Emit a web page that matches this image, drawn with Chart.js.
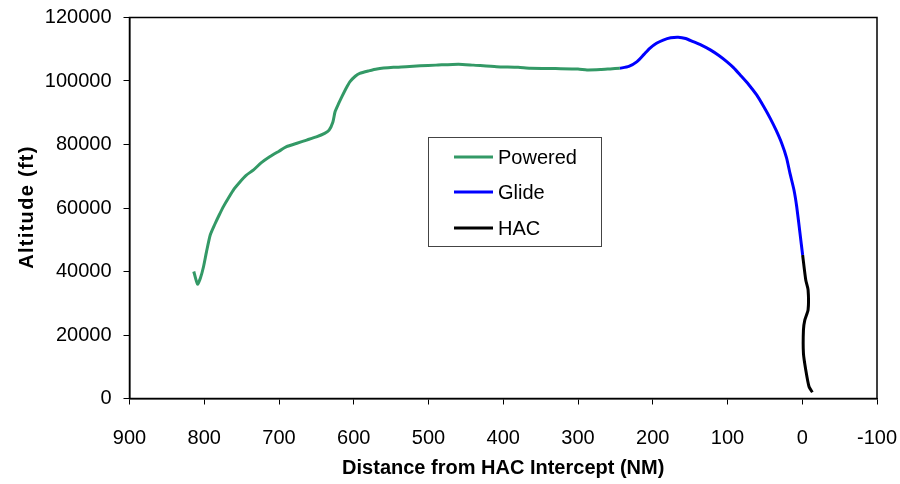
<!DOCTYPE html>
<html>
<head>
<meta charset="utf-8">
<title>Altitude vs Distance from HAC Intercept</title>
<script src="https://cdn.jsdelivr.net/npm/chart.js@4.4.0/dist/chart.umd.min.js"></script>
<style>
  html, body { margin: 0; padding: 0; background: #fff; }
  #wrap { width: 900px; height: 484px; }
</style>
</head>
<body>
<div id="wrap"><canvas id="chart"></canvas></div>
<script>
// Values (distance in NM, altitude in ft)
const poweredDist = [814, 809, 805, 801, 797, 792, 786, 780, 774, 768, 760, 752, 744, 734, 724, 712, 700, 690,
  676, 663, 650, 639, 633, 628, 625, 620, 616, 610, 605, 598, 592, 580, 569, 547, 530, 511, 490, 460, 440,
  409, 380, 364, 330, 300, 288, 270, 257, 244];
const poweredAlt = [40000, 36000, 38000, 41500, 46200, 51500, 54800, 57800, 60600, 63000, 66000, 68300, 70300,
  72000, 74200, 76200, 77900, 79300, 80400, 81400, 82400, 83500, 84500, 87000, 90300, 93000, 95000, 97800,
  99800, 101500, 102400, 103200, 103800, 104300, 104500, 104800, 105000, 105300, 105000, 104500, 104300,
  104000, 103900, 103800, 103500, 103600, 103800, 104000];

const glideDist = [244, 232, 221, 212, 204, 195, 186, 176, 166, 156, 146, 135, 123, 112, 101, 92, 83, 72, 61,
  52, 43, 35, 27.5, 21, 16.4, 11, 7.4, 3, -0.5];
const glideAlt = [104000, 104600, 106100, 108300, 110300, 111900, 112900, 113600, 113800, 113400, 112400,
  111300, 109800, 108100, 106100, 104200, 101900, 99000, 95600, 92100, 88300, 84500, 80400, 75800, 70900,
  65600, 60400, 52000, 45200];

const hacDist = [-0.5, -4.7, -7.8, -7.8, -3.4, -1.6, -1.6, -4.7, -9.1, -13.6];
const hacAlt = [45200, 37300, 34200, 27900, 24700, 21600, 14200, 9000, 3700, 1950];

const seriesNames = ['Powered', 'Glide', 'HAC'];
const seriesColors = ['#339966', '#0000ff', '#000000'];

const xTicks = [900, 800, 700, 600, 500, 400, 300, 200, 100, 0, -100];
const yTicks = [0, 20000, 40000, 60000, 80000, 100000, 120000];

const FONT = "'Liberation Sans', Arial, sans-serif";

function toPoints(xs, ys) {
  return xs.map((x, i) => ({ x: x, y: ys[i] }));
}

// frame round the plot area, the spaced-out y title and the boxed legend
const frameAndLegend = {
  id: 'frameAndLegend',
  afterDraw(chart) {
    const ctx = chart.ctx;
    const a = chart.chartArea;
    ctx.save();
    ctx.strokeStyle = '#000';
    ctx.lineWidth = 1.5;
    ctx.strokeRect(a.left, a.top, a.right - a.left, a.bottom - a.top);

    // y axis title
    ctx.save();
    ctx.translate(33, (a.top + a.bottom) / 2 - 1);
    ctx.rotate(-Math.PI / 2);
    ctx.font = 'bold 20px ' + FONT;
    ctx.letterSpacing = '1.3px';
    ctx.fillStyle = '#000';
    ctx.textAlign = 'center';
    ctx.textBaseline = 'alphabetic';
    ctx.fillText('Altitude (ft)', 0, 0);
    ctx.restore();

    ctx.strokeStyle = '#444';
    ctx.lineWidth = 1;
    ctx.fillStyle = '#fff';
    ctx.fillRect(428.5, 137.5, 173, 109);
    ctx.strokeRect(428.5, 137.5, 173, 109);

    const rows = [157, 192, 228];
    ctx.font = '20px ' + FONT;
    ctx.textBaseline = 'middle';
    seriesNames.forEach((name, i) => {
      ctx.strokeStyle = seriesColors[i];
      ctx.lineWidth = 3;
      ctx.beginPath();
      ctx.moveTo(454, rows[i]);
      ctx.lineTo(493, rows[i]);
      ctx.stroke();
      ctx.fillStyle = '#000';
      ctx.fillText(name, 498, rows[i] + 1);
    });
    ctx.restore();
  }
};

const datasets = [
  toPoints(poweredDist, poweredAlt),
  toPoints(glideDist, glideAlt),
  toPoints(hacDist, hacAlt)
].map((pts, i) => ({
  label: seriesNames[i],
  data: pts,
  showLine: true,
  borderColor: seriesColors[i],
  backgroundColor: seriesColors[i],
  borderWidth: 3,
  pointRadius: 0,
  tension: 0.2,
  fill: false
}));

new Chart(document.getElementById('chart'), {
  type: 'scatter',
  data: { datasets: datasets },
  options: {
    responsive: true,
    maintainAspectRatio: false,
    animation: false,
    layout: { padding: { top: 17.5, right: 23, left: 0, bottom: 0 } },
    plugins: {
      legend: { display: false },
      tooltip: { enabled: false }
    },
    scales: {
      x: {
        type: 'linear',
        reverse: true,
        min: -100,
        max: 900,
        afterBuildTicks(scale) { scale.ticks = xTicks.map(v => ({ value: v })); },
        afterFit(scale) {
          scale.height = 85.5;
          scale.paddingLeft = 0;
          scale.paddingRight = 0;
        },
        border: { display: true, color: '#000', width: 1.5 },
        grid: { drawOnChartArea: false, drawTicks: true, tickLength: 6, color: '#000', lineWidth: 1 },
        ticks: {
          color: '#000',
          padding: 22,
          maxRotation: 0,
          autoSkip: false,
          font: { family: FONT, size: 20 },
          callback: v => String(v)
        },
        title: {
          display: true,
          text: 'Distance from HAC Intercept (NM)',
          color: '#000',
          font: { family: FONT, size: 20, weight: 'bold' },
          padding: { top: 0, bottom: 4 }
        }
      },
      y: {
        min: 0,
        max: 120000,
        afterBuildTicks(scale) { scale.ticks = yTicks.map(v => ({ value: v })); },
        afterFit(scale) {
          scale.width = 129.5;
          scale.paddingTop = 0;
          scale.paddingBottom = 0;
        },
        border: { display: true, color: '#000', width: 1.5 },
        grid: { drawOnChartArea: false, drawTicks: true, tickLength: 6, color: '#000', lineWidth: 1 },
        ticks: {
          color: '#000',
          padding: 12,
          autoSkip: false,
          font: { family: FONT, size: 20 },
          callback: v => String(v)
        },
        title: { display: false }
      }
    }
  },
  plugins: [frameAndLegend]
});
</script>
</body>
</html>
